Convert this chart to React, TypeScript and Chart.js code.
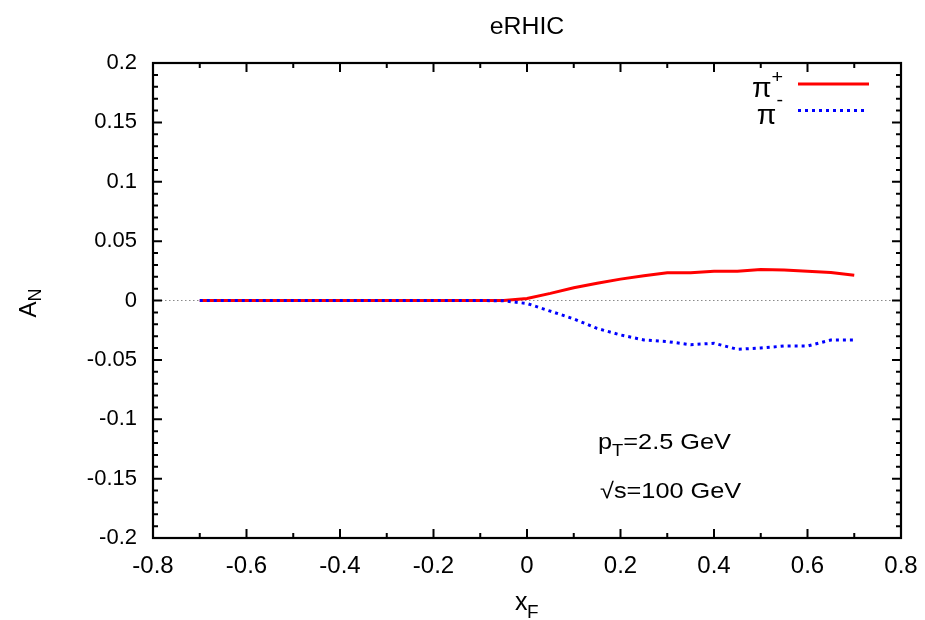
import { useEffect, useRef } from "react";
import { Chart, registerables } from "chart.js";

Chart.register(...registerables);

// x_F values shared by both curves
const xValues = [
  -0.7, -0.65, -0.6, -0.55, -0.5, -0.45, -0.4, -0.35, -0.3, -0.25, -0.2, -0.15, -0.1, -0.05,
  0, 0.05, 0.1, 0.15, 0.2, 0.25, 0.3, 0.35, 0.4, 0.45, 0.5, 0.55, 0.6, 0.65, 0.7,
];
// A_N for pi+
const piPlus = [
  0, 0, 0, 0, 0, 0, 0, 0, 0, 0, 0, 0, 0, 0,
  0.0017, 0.006, 0.0108, 0.0145, 0.018, 0.0208, 0.0234, 0.0234, 0.0246, 0.0246, 0.0262, 0.0257,
  0.0247, 0.0235, 0.0212,
];
// A_N for pi-
const piMinus = [
  0, 0, 0, 0, 0, 0, 0, 0, 0, 0, 0, 0, 0, -0.0003,
  -0.0025, -0.009, -0.0155, -0.0235, -0.029, -0.0332, -0.0346, -0.0372, -0.036, -0.0411, -0.04,
  -0.0383, -0.0383, -0.0333, -0.0333,
];

const titleText = "eRHIC";
const legendLabels = ["π", "π"];
const legendSups = ["+", "-"];
const annotation1 = ["p", "T", "=2.5 GeV"];
const annotation2 = "√s=100 GeV";

const FONT = "'Liberation Sans', Arial, Helvetica, sans-serif";

function fmt(v: number): string {
  const r = Math.round(v * 100) / 100;
  return String(r === 0 ? 0 : r);
}

function txt(
  ctx: CanvasRenderingContext2D,
  s: string,
  x: number,
  y: number,
  size: number,
  align: CanvasTextAlign = "left",
  sx = 1.0
) {
  ctx.save();
  ctx.translate(x, y);
  ctx.scale(sx, 1);
  ctx.font = `${size}px ${FONT}`;
  ctx.textAlign = align;
  ctx.textBaseline = "alphabetic";
  ctx.fillStyle = "#000";
  ctx.fillText(s, 0, 0);
  ctx.restore();
}

function width(ctx: CanvasRenderingContext2D, s: string, size: number, sx = 1.0) {
  ctx.save();
  ctx.font = `${size}px ${FONT}`;
  const w = ctx.measureText(s).width * sx;
  ctx.restore();
  return w;
}

const deco = {
  id: "deco",
  beforeDatasetsDraw(chart: any) {
    const { ctx, chartArea: a, scales } = chart;
    const y0 = scales.y.getPixelForValue(0);
    ctx.save();
    ctx.strokeStyle = "#8a8a8a";
    ctx.lineWidth = 1.2;
    ctx.setLineDash([1.5, 2.5]);
    ctx.beginPath();
    ctx.moveTo(a.left, y0);
    ctx.lineTo(a.right, y0);
    ctx.stroke();
    ctx.restore();
  },
  afterDraw(chart: any) {
    const { ctx, chartArea: a, scales } = chart;
    const xs = scales.x;
    const ys = scales.y;
    ctx.save();
    ctx.strokeStyle = "#000";
    ctx.lineWidth = 2;
    ctx.setLineDash([]);
    // ticks (inward, mirrored)
    ctx.beginPath();
    for (let i = -80; i <= 80; i += 10) {
      const v = i / 100;
      const px = xs.getPixelForValue(v);
      const len = i % 20 === 0 ? 9 : 5;
      ctx.moveTo(px, a.bottom);
      ctx.lineTo(px, a.bottom - len);
      ctx.moveTo(px, a.top);
      ctx.lineTo(px, a.top + len);
    }
    for (let i = -20; i <= 20; i += 1) {
      const v = i / 100;
      const py = ys.getPixelForValue(v);
      const len = i % 5 === 0 ? 9 : 5;
      ctx.moveTo(a.left, py);
      ctx.lineTo(a.left + len, py);
      ctx.moveTo(a.right, py);
      ctx.lineTo(a.right - len, py);
    }
    ctx.stroke();
    // border
    ctx.lineWidth = 2.2;
    ctx.strokeRect(a.left, a.top, a.right - a.left, a.bottom - a.top);
    ctx.restore();

    // title
    txt(ctx, titleText, (a.left + a.right) / 2, 34, 23, "center", 1.08);

    // x axis title x_F
    const cx = (a.left + a.right) / 2;
    txt(ctx, "x", cx - 12, 610, 25, "left", 1.0);
    txt(ctx, "F", cx, 618, 18, "left", 1.05);

    // y axis title A_N (rotated)
    ctx.save();
    ctx.translate(36, (a.top + a.bottom) / 2 + 17);
    ctx.rotate(-Math.PI / 2);
    txt(ctx, "A", 0, 0, 24, "left", 1.0);
    txt(ctx, "N", 16, 5, 18, "left", 1.0);
    ctx.restore();

    // legend
    const lineL = 798;
    const lineR = 869;
    const rowsY = [84, 110.5];
    const colors = ["#ff0000", "#0000ff"];
    for (let k = 0; k < 2; k++) {
      const supW = width(ctx, legendSups[k], 18, 1.1);
      const piW = width(ctx, legendLabels[k], 27, 1.05);
      const right = 783;
      txt(ctx, legendSups[k], right - supW, rowsY[k] - 1 + (k === 0 ? 0 : -4), 18, "left", 1.1);
      txt(ctx, legendLabels[k], right - supW - piW, rowsY[k] + 13, 27, "left", 1.05);
      ctx.save();
      ctx.strokeStyle = colors[k];
      ctx.lineWidth = 3;
      ctx.setLineDash(k === 0 ? [] : [3, 4]);
      ctx.beginPath();
      ctx.moveTo(lineL, rowsY[k]);
      ctx.lineTo(k === 0 ? lineR : lineR - 2, rowsY[k]);
      ctx.stroke();
      ctx.restore();
    }

    // annotations
    let ax = 598;
    txt(ctx, annotation1[0], ax, 449, 22, "left", 1.15);
    ax += width(ctx, annotation1[0], 22, 1.15);
    txt(ctx, annotation1[1], ax, 456, 16, "left", 1.15);
    ax += width(ctx, annotation1[1], 16, 1.15);
    txt(ctx, annotation1[2], ax, 449, 22, "left", 1.15);
    txt(ctx, annotation2, 600, 498, 22, "left", 1.15);
  },
};

export default function App() {
  const ref = useRef<HTMLCanvasElement | null>(null);
  useEffect(() => {
    if (!ref.current) return;
    const chart = new Chart(ref.current, {
      type: "line",
      data: {
        datasets: [
          {
            label: "π+",
            data: xValues.map((x, i) => ({ x, y: piPlus[i] })),
            borderColor: "#ff0000",
            borderWidth: 3,
            pointRadius: 0,
            tension: 0,
            fill: false,
            order: 1,
          },
          {
            label: "π-",
            data: xValues.map((x, i) => ({ x, y: piMinus[i] })),
            borderColor: "#0000ff",
            borderWidth: 3,
            borderDash: [3, 4],
            pointRadius: 0,
            tension: 0,
            fill: false,
            order: 0,
          },
        ],
      },
      options: {
        animation: false,
        responsive: false,
        devicePixelRatio: 1,
        layout: { padding: { top: 63, right: 24, left: 0, bottom: 0 } },
        plugins: {
          legend: { display: false },
          title: { display: false },
          tooltip: { enabled: false },
        },
        scales: {
          x: {
            type: "linear",
            min: -0.8,
            max: 0.8,
            border: { display: false },
            grid: { display: false, drawTicks: false },
            ticks: {
              stepSize: 0.2,
              padding: 14,
              color: "#000",
              maxRotation: 0,
              font: { family: FONT, size: 24 },
              callback: (v: any) => fmt(Number(v)),
            },
            afterFit: (s: any) => {
              s.height = 82;
              s.paddingLeft = 0;
              s.paddingRight = 0;
            },
          },
          y: {
            type: "linear",
            min: -0.2,
            max: 0.2,
            border: { display: false },
            grid: { display: false, drawTicks: false },
            ticks: {
              stepSize: 0.05,
              padding: 16,
              color: "#000",
              font: { family: FONT, size: 22 },
              callback: (v: any) => fmt(Number(v)),
            },
            afterFit: (s: any) => {
              s.width = 153;
              s.paddingTop = 0;
              s.paddingBottom = 0;
            },
          },
        },
      },
      plugins: [deco],
    });
    return () => chart.destroy();
  }, []);
  return (
    <div style={{ position: "absolute", left: 0, top: 0, width: 925, height: 620, background: "#fff" }}>
      <canvas ref={ref} width={925} height={620} />
    </div>
  );
}
